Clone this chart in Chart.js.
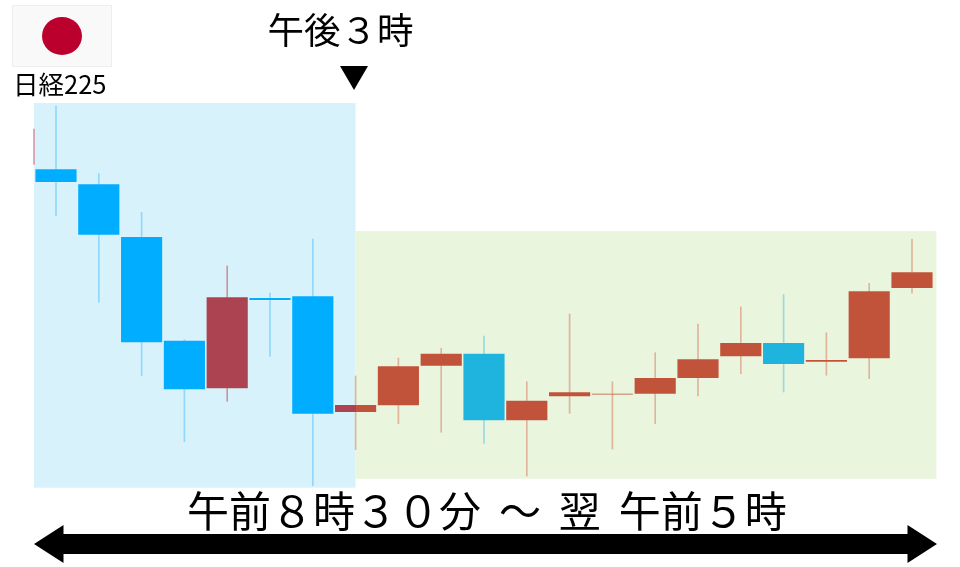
<!DOCTYPE html>
<html lang="ja">
<head>
<meta charset="utf-8">
<title>日経225</title>
<style>
    html, body { margin: 0; padding: 0; background: #fff; }
    #wrap { width: 960px; height: 567px; }
</style>
<script src="https://cdn.jsdelivr.net/npm/chart.js@4"></script>
</head>
<body>
<div id="wrap"><canvas id="chrtCandles" width="960" height="567"></canvas></div>
<script>
// candle index, 0 = first full candle, last session starts at index 7
const candleIndex = [0, 1, 2, 3, 4, 5, 6, 7, 8, 9, 10, 11, 12, 13, 14, 15, 16, 17, 18, 19, 20];
const opens  = [398.3, 383.3, 330.7, 227.0, 178.0, 269.7, 271.3, 154.3, 161.0, 200.7, 214.0, 146.0, 170.0, 172.0, 172.7, 188.3, 210.0, 224.7, 204.7, 208.0, 278.3];
const closes = [384.3, 331.7, 224.0, 177.0, 270.3, 266.3, 152.7, 162.7, 201.3, 214.0, 146.0, 167.0, 175.3, 173.7, 189.7, 208.3, 224.7, 202.3, 207.7, 276.3, 295.3];
const highs  = [461.0, 393.3, 354.7, 227.3, 301.0, 274.0, 328.0, 191.0, 209.0, 218.7, 231.0, 185.3, 253.0, 185.3, 214.3, 243.0, 260.0, 272.3, 234.3, 283.7, 327.7];
const lows   = [351.3, 264.7, 191.3, 125.3, 165.7, 210.7, 81.3, 117.3, 143.3, 134.7, 123.7, 91.0, 153.7, 118.0, 143.3, 171.0, 193.3, 175.0, 191.7, 188.3, 274.0];
// the previous candle is cut off at the left edge, only its wick is visible
const stubIndex = [-0.514];
const stubWick = [[402.7, 438.0]];

const sessionBoundary = 7;
const chartStart = -0.514;
const chartEnd = 20.57;
const morningRange = [79.3, 464.0];
const eveningRange = [88.3, 336.0];

const TOP_LABEL = "午後３時";
const NAME_LABEL = "日経225";
const SPAN_LABEL = "午前８時３０分 ～ 翌 午前５時";
const CJK_FONT = '"Noto Sans CJK JP", "Noto Sans", sans-serif';

const isUp = i => closes[i] >= opens[i];
const isMorning = i => i < sessionBoundary;

function bodyColor(ctx) {
    const i = ctx.dataIndex;
    if (i === undefined) return "#00ADFF";
    const morning = isUp(i) ? "#AC4350" : "#00ADFF";
    const evening = isUp(i) ? "#C0533A" : "#1EB4DE";
    if (i === sessionBoundary) {
        // this candle sits across the two coloured zones
        const xs = ctx.chart.scales.x;
        const x = xs.getPixelForValue(sessionBoundary);
        const grad = ctx.chart.ctx.createLinearGradient(x - 21, 0, x + 21, 0);
        grad.addColorStop(0.5, morning);
        grad.addColorStop(0.5, evening);
        return grad;
    }
    return isMorning(i) ? morning : evening;
}

function wickColor(i) {
    if (isMorning(i)) return isUp(i) ? "#C9949F" : "#8FD8FB";
    return isUp(i) ? "#DFB49A" : "#9BD9DE";
}

const zonesPlugin = {
    id: "zones",
    beforeDatasetsDraw(chart) {
        const { ctx, scales: { x, y } } = chart;
        const left = x.getPixelForValue(chartStart),
            mid = x.getPixelForValue(sessionBoundary),
            right = x.getPixelForValue(chartEnd);
        ctx.save();
        ctx.fillStyle = "#E9F5DC";
        ctx.fillRect(mid, y.getPixelForValue(eveningRange[1]), right - mid,
            y.getPixelForValue(eveningRange[0]) - y.getPixelForValue(eveningRange[1]));
        ctx.fillStyle = "#D8F2FC";
        ctx.fillRect(left, y.getPixelForValue(morningRange[1]), mid - left,
            y.getPixelForValue(morningRange[0]) - y.getPixelForValue(morningRange[1]));
        ctx.restore();
    }
};

const decorPlugin = {
    id: "decor",
    afterDraw(chart) {
        const ctx = chart.ctx;
        ctx.save();
        // flag
        ctx.fillStyle = "#F9F9F9";
        ctx.fillRect(12, 5, 100, 62);
        ctx.strokeStyle = "#EEEEEE";
        ctx.lineWidth = 1;
        ctx.strokeRect(12.5, 5.5, 99, 61);
        ctx.fillStyle = "#BC002D";
        ctx.beginPath();
        ctx.ellipse(62, 36, 20, 19, 0, 0, Math.PI * 2);
        ctx.fill();

        // labels
        ctx.fillStyle = "#000";
        ctx.textBaseline = "alphabetic";
        ctx.textAlign = "left";
        ctx.font = "25.5px " + CJK_FONT;
        ctx.fillText(NAME_LABEL, 13, 94);
        ctx.font = "36.5px " + CJK_FONT;
        ctx.fillText(TOP_LABEL, 267.5, 44);
        ctx.font = "42px " + CJK_FONT;
        ctx.wordSpacing = "8.5px";
        ctx.fillText(SPAN_LABEL, 187, 527);
        ctx.wordSpacing = "0px";

        // marker under the top label
        ctx.beginPath();
        ctx.moveTo(340, 66);
        ctx.lineTo(368, 66);
        ctx.lineTo(354, 90);
        ctx.closePath();
        ctx.fill();

        // span arrow
        ctx.beginPath();
        ctx.moveTo(34, 544);
        ctx.lineTo(63.5, 525);
        ctx.lineTo(63.5, 534);
        ctx.lineTo(907.5, 534);
        ctx.lineTo(907.5, 525);
        ctx.lineTo(937, 544);
        ctx.lineTo(907.5, 563);
        ctx.lineTo(907.5, 554);
        ctx.lineTo(63.5, 554);
        ctx.lineTo(63.5, 563);
        ctx.closePath();
        ctx.fill();
        ctx.restore();
    }
};

const CHRT_CANDLES = document.getElementById("chrtCandles");

new Chart(CHRT_CANDLES, {
    type: "bar",
    data: {
        datasets: [{
            label: "wick",
            data: candleIndex.map(i => ({ x: i, y: [lows[i], highs[i]] })),
            backgroundColor: candleIndex.map(wickColor),
            barThickness: 1,
            order: 3
        }, {
            label: "stub",
            data: stubIndex.map((v, i) => ({ x: v, y: stubWick[i] })),
            backgroundColor: "#D59AA6",
            barThickness: 1,
            order: 2
        }, {
            label: "body",
            data: candleIndex.map(i => ({ x: i, y: [opens[i], closes[i]] })),
            backgroundColor: bodyColor,
            borderColor: "rgba(255,255,255,0.12)",
            borderWidth: 1,
            borderSkipped: false,
            barThickness: 42.5,
            order: 1
        }]
    },
    options: {
        responsive: false,
        animation: false,
        grouped: false,
        layout: { padding: 0 },
        plugins: {
            legend: { display: false },
            title: { display: false },
            tooltip: { enabled: false }
        },
        scales: {
            x: { type: "linear", display: false, offset: false, min: -56 / 42.8, max: 904 / 42.8 },
            y: { type: "linear", display: false, min: 0, max: 567 }
        }
    },
    plugins: [zonesPlugin, decorPlugin]
});
</script>
</body>
</html>
